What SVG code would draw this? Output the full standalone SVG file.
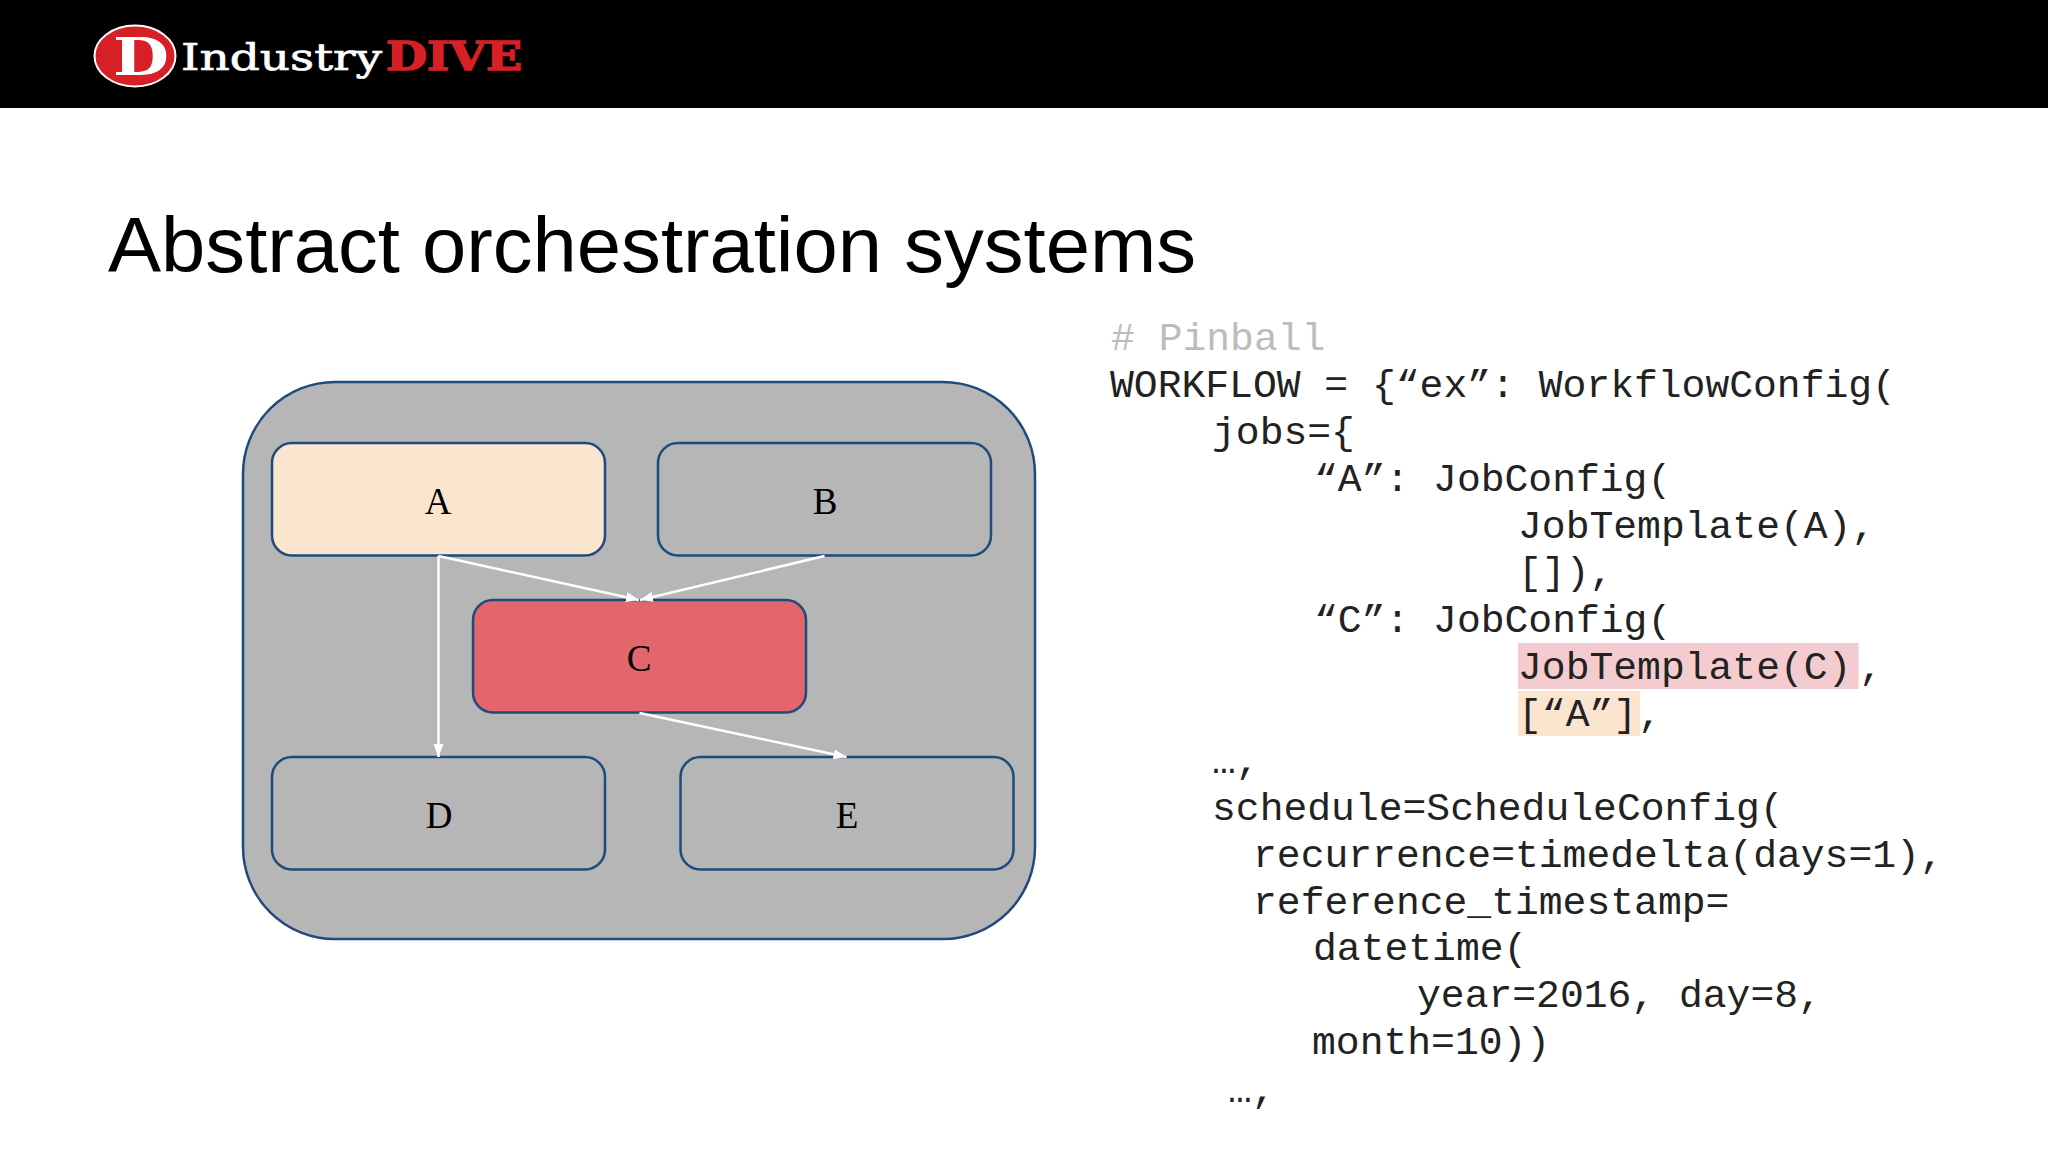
<svg xmlns="http://www.w3.org/2000/svg" width="2048" height="1152" viewBox="0 0 2048 1152">
<style>
.n{stroke:#1f4a7c;stroke-width:2.5}
.l{font-family:"Liberation Serif",serif;font-size:37px;fill:#000;text-anchor:middle}
.c{font-family:"Liberation Mono",monospace;font-size:39.7px;fill:#222;white-space:pre}
.e{stroke:#fff;stroke-width:2.5;fill:none;marker-end:url(#ah)}
</style>
<defs><marker id="ah" markerUnits="userSpaceOnUse" markerWidth="14" markerHeight="10" refX="13" refY="5" orient="auto"><path d="M0 0L13 5L0 10Z" fill="#fff"/></marker></defs>
<rect width="2048" height="1152" fill="#fff"/>
<g id="header">
<rect width="2048" height="108" fill="#000"/>
<ellipse cx="135" cy="56" rx="40.500" ry="30.500" fill="#d71f26" stroke="#fff" stroke-width="2"/>
<text x="113" y="75" font-family="'DejaVu Serif',serif" font-weight="700" font-size="52" fill="#fff" textLength="56" lengthAdjust="spacingAndGlyphs">D</text>
<text x="181" y="70" font-family="'DejaVu Serif',serif" font-size="38" fill="#fff" stroke="#fff" stroke-width="0.700" textLength="201" lengthAdjust="spacingAndGlyphs">Industry</text>
<text x="386" y="70" font-family="'DejaVu Serif',serif" font-weight="700" font-size="39" fill="#d71f26" stroke="#d71f26" stroke-width="1.500" textLength="136" lengthAdjust="spacingAndGlyphs">DIVE</text>
</g>
<text id="title" x="108" y="272" font-family="'Liberation Sans',sans-serif" font-size="78" fill="#000" textLength="1088" lengthAdjust="spacingAndGlyphs">Abstract orchestration systems</text>
<g id="container"><rect x="243" y="382" width="792" height="557" rx="92" ry="92" fill="#b6b6b7" class="n"/></g>
<g id="node-A"><rect x="272" y="443" width="333" height="112.500" rx="20" fill="#fce5cf" class="n"/><text class="l" x="438" y="514">A</text></g>
<g id="node-B"><rect x="658" y="443" width="333" height="112.500" rx="20" fill="#b6b6b7" class="n"/><text class="l" x="825" y="514">B</text></g>
<g id="node-C"><rect x="473" y="600" width="333" height="112.500" rx="20" fill="#e2666b" class="n"/><text class="l" x="639" y="671">C</text></g>
<g id="node-D"><rect x="272" y="757" width="333" height="112.500" rx="20" fill="#b6b6b7" class="n"/><text class="l" x="439" y="828">D</text></g>
<g id="node-E"><rect x="680.500" y="757" width="333" height="112.500" rx="20" fill="#b6b6b7" class="n"/><text class="l" x="847" y="828">E</text></g>
<g id="connectors">
<path class="e" d="M438.500 556L639 600"/>
<path class="e" d="M824.500 556L640 600"/>
<path class="e" d="M438.500 556V757"/>
<path class="e" d="M639.500 713L846.500 757"/>
</g>
<g id="code">
<rect x="1518" y="643" width="340.500" height="46" fill="#f4cccf"/>
<rect x="1518" y="691" width="122" height="45" fill="#fce5cf"/>
<text class="c" x="1111" y="349.500" style="fill:#bcbcbc"># Pinball</text>
<text class="c" x="1110" y="396.500">WORKFLOW = {“ex”: WorkflowConfig(</text>
<text class="c" x="1212" y="443.500">jobs={</text>
<text class="c" x="1314" y="490.500">“A”: JobConfig(</text>
<text class="c" x="1518" y="537.500">JobTemplate(A),</text>
<text class="c" x="1518" y="584">[]),</text>
<text class="c" x="1314" y="631.500">“C”: JobConfig(</text>
<text class="c" x="1518" y="678.500">JobTemplate(C)</text>
<text class="c" x="1859" y="678.500">,</text>
<text class="c" x="1518" y="725.500">[“A”]</text>
<text class="c" x="1638" y="725.500">,</text>
<text class="c" x="1212" y="773">…,</text>
<text class="c" x="1212" y="819.500">schedule=ScheduleConfig(</text>
<text class="c" x="1253" y="866.500">recurrence=timedelta(days=1),</text>
<text class="c" x="1253" y="913.500">reference_timestamp=</text>
<text class="c" x="1313" y="960">datetime(</text>
<text class="c" x="1417" y="1006.500">year=2016, day=8,</text>
<text class="c" x="1312" y="1053.500">month=10))</text>
<text class="c" x="1228" y="1102">…,</text>
</g>
</svg>
